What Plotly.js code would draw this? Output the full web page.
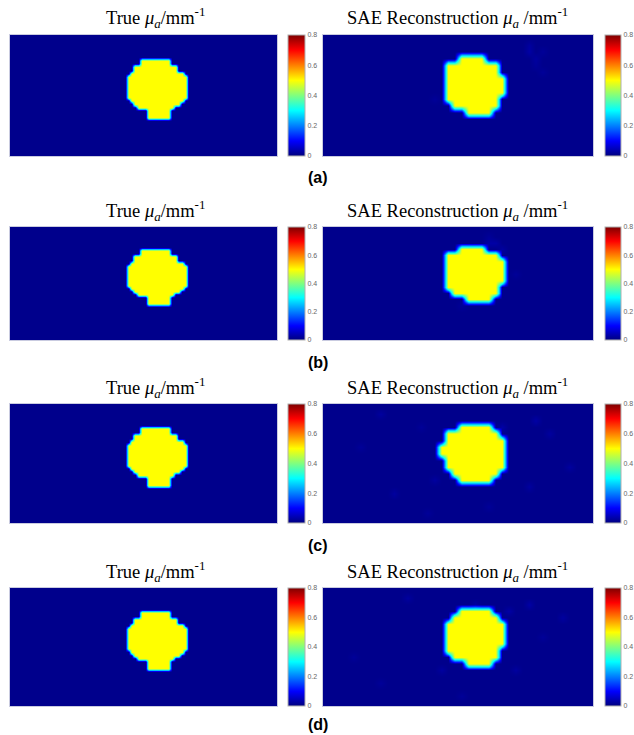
<!DOCTYPE html>
<html><head><meta charset="utf-8">
<script src="https://cdn.plot.ly/plotly-3.0.1.min.js"></script>
<style>html,body{margin:0;padding:0;background:#fff}</style>
</head><body><div id="chart" style="width:634px;height:735px"></div>
<script>
// ---------------- data ----------------
const panelLabels = ['(a)', '(b)', '(c)', '(d)'];
const leftTitle = 'True <i>μ<sub>a</sub></i>/mm<sup>-1</sup>';
const rightTitle = 'SAE Reconstruction <i>μ<sub>a</sub></i> /mm<sup>-1</sup>';
const colorTickVals = [0, 0.2, 0.4, 0.6, 0.8];
const colorTickText = ['0', '0.2', '0.4', '0.6', '0.8'];
const zMin = 0, zMax = 0.8;
const backgroundMua = 0.01;
const inclusionMua = 0.5;

// True phantom, fine grid 80 x 36 : [row, firstCol, lastCol]
const fineCols = 80, fineRows = 36;
const trueRows = [
  [7,39,47],[8,39,47],[9,37,49],[10,37,49],[11,36,51],
  [12,35,52],[13,35,52],[14,35,52],[15,35,52],[16,35,52],[17,35,52],[18,35,52],
  [19,36,51],[20,37,50],[21,38,48],[22,41,47],[23,41,47],[24,41,47]
];

// Reconstructions, coarse grid 40 x 18 : [row, firstCol, lastCol]
const coarseCols = 40, coarseRows = 18;
const reconRowsA = [[3,20,23],[4,18,25],[5,18,25],[6,18,26],[7,18,26],[8,18,26],[9,18,25],[10,19,25],[11,21,24]];
const reconRowsB = [[3,20,23],[4,18,25],[5,18,26],[6,18,26],[7,18,26],[8,18,26],[9,18,25],[10,19,25],[11,21,24]];
const reconRowsC = [[3,20,24],[4,18,25],[5,18,26],[6,17,26],[7,17,26],[8,18,26],[9,18,26],[10,19,25],[11,20,24]];
const reconRowsD = [[3,20,24],[4,19,25],[5,18,26],[6,18,26],[7,18,26],[8,18,26],[9,18,25],[10,19,25],[11,21,24]];

// faint background artefacts in the reconstructions : [row, col, value]
const noiseA = [[1,30,0.025],[2,30,0.03],[3,31,0.025],[4,31,0.02],[2,32,0.02],[5,32,0.02],[9,16,0.02]];
const noiseB = [[2,24,0.03],[2,25,0.03],[3,26,0.025],[1,24,0.02],[12,20,0.02],[7,28,0.02]];
const noiseC = [[1,8,0.025],[3,14,0.02],[2,31,0.03],[4,33,0.025],[13,10,0.025],[15,24,0.02],[12,30,0.025],[6,5,0.02],[9,36,0.025],[16,15,0.02],[3,26,0.03],[11,16,0.025]];
const noiseD = [[1,12,0.025],[2,22,0.025],[2,30,0.03],[4,35,0.025],[14,8,0.02],[12,28,0.025],[7,32,0.02],[16,20,0.02],[10,4,0.02],[3,27,0.03],[12,17,0.025]];

// ---------------- build matrices ----------------
function buildGrid(nr, nc, rows, noise) {
  const z = [];
  for (let r = 0; r < nr; r++) z.push(new Array(nc).fill(backgroundMua));
  rows.forEach(([r, a, b]) => { for (let c = a; c <= b; c++) z[r][c] = inclusionMua; });
  (noise || []).forEach(([r, c, v]) => { z[r][c] = v; });
  return z;
}
const trueZ = buildGrid(fineRows, fineCols, trueRows, []);
const reconZ = [
  buildGrid(coarseRows, coarseCols, reconRowsA, noiseA),
  buildGrid(coarseRows, coarseCols, reconRowsB, noiseB),
  buildGrid(coarseRows, coarseCols, reconRowsC, noiseC),
  buildGrid(coarseRows, coarseCols, reconRowsD, noiseD)
];

const jet = [[0,'#00007F'],[0.125,'#0000FF'],[0.375,'#00FFFF'],[0.625,'#FFFF00'],[0.875,'#FF0000'],[1,'#7F0000']];

// ---------------- layout geometry (px) ----------------
const W = 634, H = 735;
const rowsPx = [[35,156],[227,340],[404,523],[588,706]];
const leftX = [10, 277], rightX = [323, 593];
const cbLeftX = 288, cbRightX = 605;
const px = v => v / W, py = v => 1 - v / H;

const data = [], annotations = [];
const layout = {
  width: W, height: H, margin: {l:0, r:0, t:0, b:0},
  paper_bgcolor: '#fff', plot_bgcolor: '#fff', showlegend: false,
  font: {family: 'Liberation Serif', color: '#000'}
};

function axisDef(domain, range) {
  return {domain: domain, range: range, showgrid: false, zeroline: false, showticklabels: false,
          ticks: '', showline: true, linecolor: '#c9cbe0', linewidth: 1, mirror: true, fixedrange: true};
}

rowsPx.forEach(([top, bot], i) => {
  const yDom = [py(bot), py(top)];
  [0, 1].forEach(side => {
    const k = i * 2 + side + 1;
    const xs = side === 0 ? leftX : rightX;
    const z = side === 0 ? trueZ : reconZ[i];
    const nc = z[0].length, nr = z.length;
    layout['xaxis' + k] = Object.assign(axisDef([px(xs[0]), px(xs[1])], [-0.5, nc - 0.5]), {anchor: 'y' + k});
    layout['yaxis' + k] = Object.assign(axisDef(yDom, [nr - 0.5, -0.5]), {anchor: 'x' + k});
    data.push({
      type: 'heatmap', z: z, xaxis: 'x' + k, yaxis: 'y' + k,
      colorscale: jet, zmin: zMin, zmax: zMax, zsmooth: 'best', hoverinfo: 'skip',
      showscale: true,
      colorbar: {
        x: px(side === 0 ? cbLeftX : cbRightX), xanchor: 'left', xref: 'paper',
        y: py(bot), yanchor: 'bottom', yref: 'paper',
        len: (bot - top) / H, lenmode: 'fraction',
        thickness: side === 0 ? 17 : 16, thicknessmode: 'pixels',
        xpad: 0, ypad: 0, outlinewidth: 1, outlinecolor: '#b0b0b0',
        tickvals: colorTickVals, ticktext: colorTickText, ticks: '',
        tickfont: {family: 'Liberation Sans', size: 7, color: '#666'}
      }
    });
    annotations.push({
      xref: 'paper', yref: 'paper', x: px((xs[0] + xs[1]) / 2 + (side === 0 ? 12 : 0)), y: py(top - 17),
      xanchor: 'center', yanchor: 'middle', showarrow: false,
      text: side === 0 ? leftTitle : rightTitle,
      font: {family: 'Liberation Serif', size: 18.5, color: '#000'}
    });
  });
  annotations.push({
    xref: 'paper', yref: 'paper', x: px(318), y: py(Math.min(bot + 22, 724)), xanchor: 'center', yanchor: 'middle',
    showarrow: false, text: '<b>' + panelLabels[i] + '</b>',
    font: {family: 'Liberation Sans', size: 16, color: '#000'}
  });
});
layout.annotations = annotations;

Plotly.newPlot('chart', data, layout, {staticPlot: true, displayModeBar: false});
</script>
</body></html>
